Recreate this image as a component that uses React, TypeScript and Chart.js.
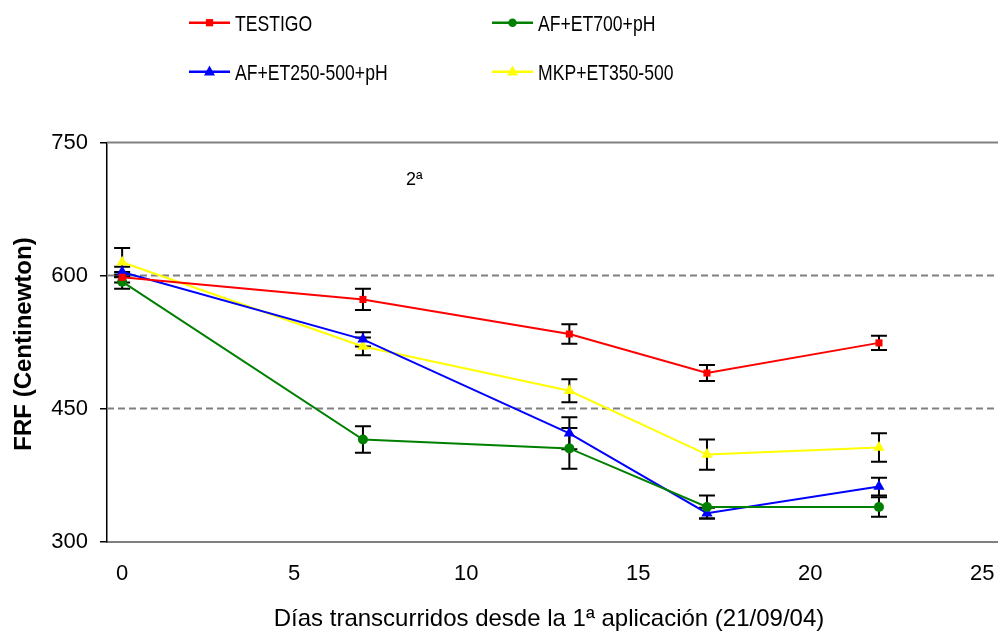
import { useEffect, useRef } from "react";
import { Chart, registerables } from "chart.js";
Chart.register(...registerables);

const days = [0, 7, 13, 17, 22];
const seriesNames = ["TESTIGO", "AF+ET700+pH", "AF+ET250-500+pH", "MKP+ET350-500"];
const testigo = [598, 573, 534, 490, 524];
const testigoErr = [6, 12, 11, 9, 8];
const af700 = [593, 415, 405, 339, 339];
const af700Err = [8, 15, 23, 13, 11];
const af250 = [604, 528, 422, 332, 362];
const af250Err = [6, 8, 18, 6, 10];
const mkp = [615, 520, 470, 398, 406];
const mkpErr = [16, 10, 13, 17, 16];
const xTicks = [0, 5, 10, 15, 20, 25];
const yTicks = [300, 450, 600, 750];
const xTitle = "Días transcurridos desde la 1ª aplicación (21/09/04)";
const yTitle = "FRF (Centinewton)";
const note = "2ª";
const notePos = { x: 8.25, y: 702 };

const FONT = "'Liberation Sans', Arial, sans-serif";

const seriesValues = [testigo, af700, af250, mkp];
const seriesErrors = [testigoErr, af700Err, af250Err, mkpErr];
const colors = ["#FF0000", "#008000", "#0000FF", "#FFFF00"];
const styles = ["rect", "circle", "triangle", "triangle"];
const radii = [5, 5, 6.5, 6.5];

function drawMarker(ctx: CanvasRenderingContext2D, style: string, x: number, y: number, r: number, color: string) {
  ctx.save();
  ctx.fillStyle = color;
  ctx.beginPath();
  if (style === "rect") {
    ctx.rect(x - r * 0.85, y - r * 0.85, r * 1.7, r * 1.7);
  } else if (style === "circle") {
    ctx.arc(x, y, r, 0, Math.PI * 2);
  } else {
    ctx.moveTo(x, y - r * 1.1);
    ctx.lineTo(x + r, y + r * 0.7);
    ctx.lineTo(x - r, y + r * 0.7);
    ctx.closePath();
  }
  ctx.fill();
  ctx.restore();
}

const customPlugin = {
  id: "custom",
  beforeDatasetsDraw(chart: any) {
    const ctx = chart.ctx as CanvasRenderingContext2D;
    const xs = chart.scales.x;
    const ys = chart.scales.y;
    const area = chart.chartArea;
    ctx.save();
    yTicks.forEach((v) => {
      if (v === yTicks[0]) return;
      const py = ys.getPixelForValue(v);
      ctx.beginPath();
      ctx.strokeStyle = "#808080";
      ctx.lineWidth = 2;
      ctx.setLineDash(v === yTicks[yTicks.length - 1] ? [] : [7, 4]);
      ctx.moveTo(area.left, py);
      ctx.lineTo(area.right, py);
      ctx.stroke();
    });
    ctx.setLineDash([]);
    ctx.strokeStyle = "#000000";
    ctx.lineWidth = 2;
    seriesValues.forEach((vals, si) => {
      vals.forEach((v, i) => {
        const e = seriesErrors[si][i];
        const px = xs.getPixelForValue(days[i]);
        const top = ys.getPixelForValue(v + e);
        const bot = ys.getPixelForValue(v - e);
        ctx.beginPath();
        ctx.moveTo(px, top);
        ctx.lineTo(px, bot);
        ctx.moveTo(px - 8, top);
        ctx.lineTo(px + 8, top);
        ctx.moveTo(px - 8, bot);
        ctx.lineTo(px + 8, bot);
        ctx.stroke();
      });
    });
    ctx.restore();
  },
  afterDraw(chart: any) {
    const ctx = chart.ctx as CanvasRenderingContext2D;
    const xs = chart.scales.x;
    const ys = chart.scales.y;
    ctx.save();
    const cols = [189, 492];
    const rows = [22.7, 71.7];
    seriesNames.forEach((name, i) => {
      const cx = cols[i % 2];
      const cy = rows[Math.floor(i / 2)];
      ctx.beginPath();
      ctx.strokeStyle = colors[i];
      ctx.lineWidth = 2.5;
      ctx.moveTo(cx, cy);
      ctx.lineTo(cx + 41, cy);
      ctx.stroke();
      drawMarker(ctx, styles[i], cx + 20.5, cy, radii[i] * 0.85, colors[i]);
      ctx.save();
      ctx.translate(cx + 46, cy + 8);
      ctx.scale(0.8, 1);
      ctx.fillStyle = "#000";
      ctx.font = `22px ${FONT}`;
      ctx.textAlign = "left";
      ctx.textBaseline = "alphabetic";
      ctx.fillText(name, 0, 0);
      ctx.restore();
    });
    ctx.fillStyle = "#000";
    ctx.font = `18px ${FONT}`;
    ctx.textAlign = "left";
    ctx.textBaseline = "alphabetic";
    ctx.fillText(note, xs.getPixelForValue(notePos.x), ys.getPixelForValue(notePos.y));
    ctx.font = `24px ${FONT}`;
    ctx.textAlign = "center";
    ctx.fillText(xTitle, 549, 626);
    ctx.save();
    ctx.translate(31, 344);
    ctx.rotate(-Math.PI / 2);
    ctx.font = `bold 24px ${FONT}`;
    ctx.textAlign = "center";
    ctx.textBaseline = "alphabetic";
    ctx.fillText(yTitle, 0, 0);
    ctx.restore();
    ctx.restore();
  },
};

export default function App() {
  const ref = useRef<HTMLCanvasElement | null>(null);
  useEffect(() => {
    document.body.style.margin = "0";
    const canvas = ref.current;
    if (!canvas) return;
    const chart = new Chart(canvas, {
      type: "line",
      data: {
        datasets: seriesNames.map((name, i) => ({
          label: name,
          data: days.map((d, j) => ({ x: d, y: seriesValues[i][j] })),
          borderColor: colors[i],
          backgroundColor: colors[i],
          borderWidth: 2,
          pointStyle: styles[i] as any,
          pointRadius: radii[i],
          pointBorderWidth: 0,
          pointHoverRadius: radii[i],
          tension: 0,
          fill: false,
          clip: false as any,
        })),
      },
      options: {
        animation: false,
        responsive: false,
        events: [],
        layout: { autoPadding: false, padding: { top: 142.5, left: 0, right: 0, bottom: 0 } },
        plugins: { legend: { display: false }, tooltip: { enabled: false }, title: { display: false } },
        scales: {
          x: {
            type: "linear",
            min: -0.44,
            max: 25.46,
            afterBuildTicks: (s: any) => {
              s.ticks = xTicks.map((v) => ({ value: v }));
            },
            afterFit: (s: any) => {
              s.height = 89.5;
              s.paddingLeft = 0;
              s.paddingRight = 0;
            },
            grid: { display: false, drawTicks: false },
            border: { display: true, color: "#808080", width: 2 },
            ticks: {
              color: "#000",
              font: { family: FONT, size: 22 },
              padding: 19,
              maxRotation: 0,
              autoSkip: false,
            },
          },
          y: {
            type: "linear",
            min: 300,
            max: 750,
            afterBuildTicks: (s: any) => {
              s.ticks = yTicks.map((v) => ({ value: v }));
            },
            afterFit: (s: any) => {
              s.width = 107;
              s.paddingTop = 0;
              s.paddingBottom = 0;
            },
            grid: { display: true, drawOnChartArea: false, drawTicks: true, tickLength: 7, color: "#000", lineWidth: 1.5 },
            border: { display: true, color: "#000", width: 1.5 },
            ticks: {
              color: "#000",
              font: { family: FONT, size: 22 },
              padding: 12,
              autoSkip: false,
            },
          },
        },
      },
      plugins: [customPlugin],
    });
    return () => chart.destroy();
  }, []);
  return (
    <div style={{ position: "absolute", left: 0, top: 0, width: 998, height: 631, background: "#fff", overflow: "hidden" }}>
      <canvas ref={ref} width={998} height={631} style={{ width: 998, height: 631, display: "block" }} />
    </div>
  );
}
